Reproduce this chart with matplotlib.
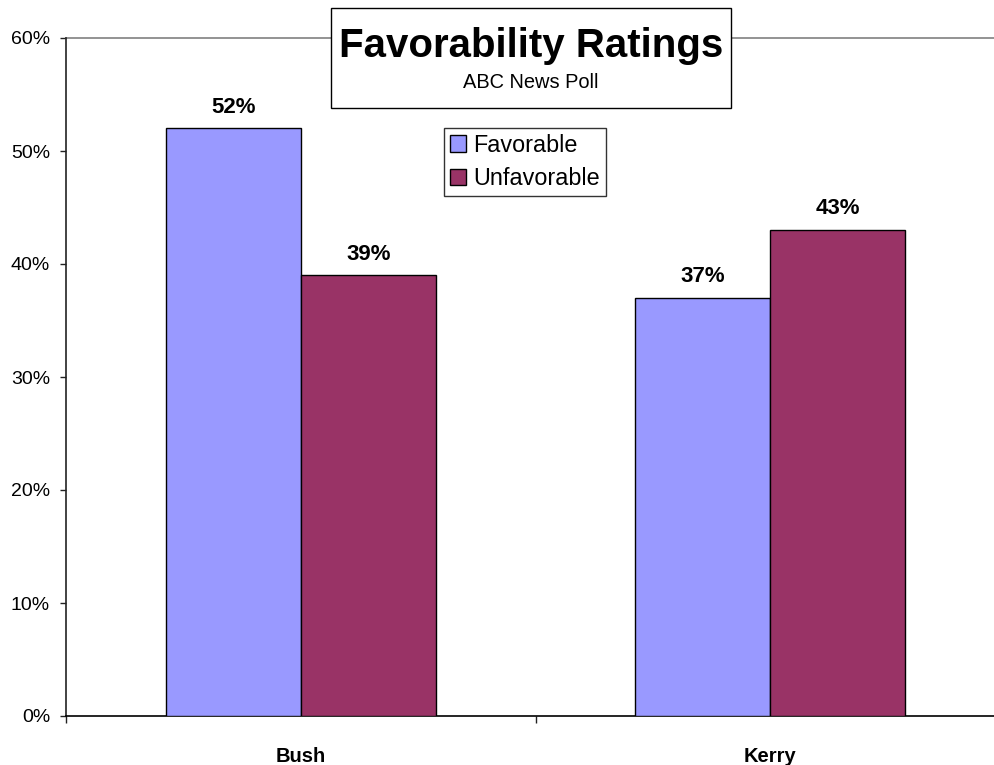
#Favorability ratings bar chart (ABC News Poll)

import numpy as np
import matplotlib
matplotlib.use('Agg')
import matplotlib.pyplot as plt
from matplotlib.patches import Rectangle, Patch

plt.rcParams['font.family'] = ['Liberation Sans', 'DejaVu Sans']

#data
candidates = ['Bush', 'Kerry']
favorable = [52, 37]
unfavorable = [39, 43]
series_names = ['Favorable', 'Unfavorable']
y_ticks = [0, 10, 20, 30, 40, 50, 60]

fav_color = '#9999FF'
unfav_color = '#993366'

W, H = 994, 765
fig = plt.figure(figsize=(W/100, H/100), dpi=100)
#axes run past the right edge of the figure, like the original
ax = fig.add_axes([66/W, 49/H, 939/W, 678/H])

x = np.arange(len(candidates))
bw = 0.288
ax.bar(x - bw/2, favorable, bw, color=fav_color, edgecolor='black', linewidth=1, zorder=3)
ax.bar(x + bw/2, unfavorable, bw, color=unfav_color, edgecolor='black', linewidth=1, zorder=3)

#value labels on top of bars
for xi, v in zip(x - bw/2, favorable):
    ax.text(xi, v + 0.95, '%d%%' % v, ha='center', va='bottom', fontsize=16, fontweight='bold')
for xi, v in zip(x + bw/2, unfavorable):
    ax.text(xi, v + 0.95, '%d%%' % v, ha='center', va='bottom', fontsize=16, fontweight='bold')

ax.set_xlim(-0.5, len(candidates) - 0.5)
ax.set_ylim(0, 60)
ax.set_yticks(y_ticks)
ax.set_yticklabels(['%d%%' % t for t in y_ticks], fontsize=14)
ax.tick_params(axis='y', direction='out', length=4.5, width=1, pad=7, color='#222222')

#category separators as major ticks, names as minor ticks
ax.set_xticks(np.arange(-0.5, len(candidates)))
ax.set_xticklabels([])
ax.set_xticks(x, minor=True)
ax.set_xticklabels(candidates, minor=True, fontsize=14.5, fontweight='bold')
ax.tick_params(axis='x', which='major', direction='out', length=5, width=1, color='#222222')
ax.tick_params(axis='x', which='minor', length=0, pad=22)

ax.axhline(60, color='#808080', linewidth=1.2, zorder=2, clip_on=False)
ax.spines['top'].set_visible(False)
ax.spines['right'].set_visible(False)
ax.spines['left'].set_color('#222222')
ax.spines['bottom'].set_color('black')
ax.spines['left'].set_linewidth(1.2)
ax.spines['bottom'].set_linewidth(1.2)

#title box
fig.patches.append(Rectangle((331/W, 1 - 108/H), 400/W, 100/H, transform=fig.transFigure,
                             facecolor='white', edgecolor='black', linewidth=1, zorder=5))
fig.text(531/W, 1 - 46/H, 'Favorability Ratings', ha='center', va='center',
         fontsize=29, fontweight='bold', zorder=6)
fig.text(531/W, 1 - 83/H, 'ABC News Poll', ha='center', va='center', fontsize=14.4, zorder=6)

#legend
handles = [Patch(facecolor=fav_color, edgecolor='black'),
           Patch(facecolor=unfav_color, edgecolor='black')]
leg = ax.legend(handles, series_names, loc='upper left',
                bbox_to_anchor=(444/W, 1 - 128/H), bbox_transform=fig.transFigure,
                fontsize=16.8, frameon=True, fancybox=False, borderaxespad=0,
                handlelength=0.7, handleheight=0.7, handletextpad=0.3,
                borderpad=0.25, labelspacing=0.45)
leg.get_frame().set_edgecolor('black')
leg.get_frame().set_linewidth(1)

fig.savefig('out.png', dpi=100)
